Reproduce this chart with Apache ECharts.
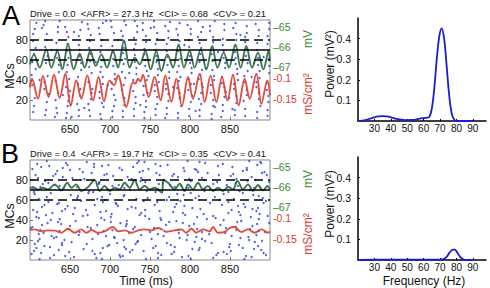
<!DOCTYPE html>
<html><head><meta charset="utf-8">
<script src="https://cdn.jsdelivr.net/npm/echarts@6/dist/echarts.min.js"></script>
<style>html,body{margin:0;padding:0;background:#fff}#c{width:490px;height:288px}</style>
</head><body><div id="c"></div>
<script>
// ---------- data ----------
const timeTicks = [650, 700, 750, 800, 850];
const mcTicks = [20, 40, 60, 80];
const mvTicks = [-65, -66, -67];
const gTicks = [-0.1, -0.15];
const freqTicks = [30, 40, 50, 60, 70, 80, 90];
const powerTicks = [0.1, 0.2, 0.3, 0.4];
const refLevels = [60, 70, 80];

const titleA = 'Drive = 0.0  <AFR> = 27.3 Hz  <CI> = 0.68  <CV> = 0.21';
const titleB = 'Drive = 0.4  <AFR> = 19.7 Hz  <CI> = 0.35  <CV> = 0.41';

// panel A voltage trace (ms, mV)
const vA_t = [600,605,612.1,620.4,626.7,634.2,640.4,647.5,654.6,662.1,668.3,675.4,682.1,689.2,696.3,703.75,710,717.5,724.6,730.8,737.1,744.2,750.8,757.9,764.2,771.7,778.75,785.8,792.5,799.6,805.8,813.3,820.4,827.9,834.2,842.1,848.75,856.7,863.3,870.4,877.5,885,891.7,898.3,900];
const vA_v = [-66.87,-66.37,-67.03,-66.12,-67.03,-66.2,-67.12,-65.83,-67.12,-66.33,-67.03,-66.2,-66.95,-66.37,-67.03,-66.2,-67.03,-65.67,-67.03,-66.53,-66.87,-66.2,-67.12,-66.2,-67.2,-66.37,-67.03,-65.87,-67.03,-66.2,-67.03,-66.12,-67.12,-65.95,-67.03,-66.28,-67.03,-65.87,-67.03,-65.95,-67.03,-66.28,-67.12,-66.2,-66.7];
// panel A conductance trace (ms, mS/cm2)
const gA_t = [600,602.5,610,616.25,623.3,630,637.1,644.2,650.8,657.9,664.2,671.7,678.75,685.8,692.5,699.6,705,710,720.4,728.75,731.7,735,738,741.25,748.3,755.8,763.3,769.2,776.7,782.9,790,797.5,803.75,812.1,818.3,825.8,832.9,840,846.7,853.75,860.8,868.3,874.6,882.9,889.2,896.7,900];
const gA_v = [-0.1215,-0.1017,-0.1493,-0.0953,-0.1453,-0.0922,-0.1477,-0.0898,-0.1667,-0.1056,-0.1493,-0.0937,-0.1533,-0.0976,-0.1556,-0.1056,-0.1175,-0.0937,-0.169,-0.1096,-0.1135,-0.1017,-0.108,-0.0922,-0.1453,-0.0976,-0.1533,-0.0937,-0.1572,-0.1017,-0.1667,-0.0976,-0.1493,-0.0898,-0.1572,-0.0937,-0.1572,-0.0976,-0.1533,-0.0922,-0.1652,-0.1017,-0.1493,-0.0898,-0.1612,-0.1056,-0.1414];
// panel B voltage trace
const vB_t = [600,603.75,610,616.25,622.5,630.8,639.2,646.7,651.7,657.9,664.2,672.5,680.8,687.1,693.3,699.6,705.8,712.1,718.3,724.6,730.8,737.1,743.3,749.6,755.8,762.1,765,767,772.5,780.8,787.1,793.3,797.5,803.75,810,816.25,822.5,828.75,835,841.25,847.5,853.75,859.2,866.25,872.5,878.75,885,891.25,896.7,900];
const vB_v = [-66.07,-66.0,-66.13,-66.04,-66.12,-65.87,-66.17,-65.79,-66.04,-65.87,-66.2,-66.0,-65.65,-66.2,-65.95,-66.2,-66.04,-66.12,-65.79,-66.04,-65.65,-66.12,-65.95,-66.12,-66.04,-66.2,-66.29,-65.65,-65.79,-66.12,-65.84,-66.2,-65.87,-66.12,-65.79,-66.12,-65.95,-66.2,-66.04,-66.2,-66.0,-66.12,-65.7,-66.12,-65.87,-66.2,-65.9,-66.17,-65.95,-66.12];
// panel B conductance trace (null = gap)
const gB_t = [600,605.8,614.2,622.5,630.8,639.2,647.5,655.8,664.2,670.4,676.7,685,693.3,703.75,710,718.3,726.7,735,743.3,751.7,760,766.25,767.5,769.2,780.8,789.2,795.4,801.7,807.9,816.25,824.6,828.75,835,843.3,849.6,855.8,864.2,872.5,880.8,889.2,897.5,900];
const gB_v = [-0.1294,-0.1271,-0.1318,-0.1294,-0.13,-0.135,-0.1255,-0.135,-0.1271,-0.135,-0.1287,-0.135,-0.1318,-0.1215,-0.1318,-0.1294,-0.135,-0.1294,-0.1271,-0.1294,-0.1238,-0.1287,null,-0.1334,-0.1294,-0.1271,-0.135,-0.1255,-0.135,-0.1271,-0.1318,-0.1215,-0.135,-0.1334,-0.1238,-0.1215,-0.1334,-0.1271,-0.135,-0.1271,-0.135,-0.1318];

// raster A spikes [ms, MC index]
const spikesA = [
[604,8],[606,22],[603,35],[607,51],[605,66],[604,79],[606,91],[602,45],[608,97],[605,14],[603,58],[607,72],[604,86],
[619,5],[621,18],[618,31],[622,44],[620,57],[619,73],[621,86],[617,95],[623,26],[620,10],[618,38],[622,64],[621,80],[619,99],
[633,12],[635,27],[632,39],[636,48],[634,62],[633,77],[635,88],[631,3],[637,99],[634,7],[632,20],[636,55],[633,70],[635,93],
[646,7],[648,19],[645,33],[649,41],[647,55],[646,69],[648,83],[644,93],[650,29],[647,14],[645,2],[649,24],[646,48],[648,62],[647,76],[646,88],
[661,4],[663,24],[660,36],[664,50],[662,64],[661,75],[663,90],[659,16],[665,98],[661,10],[663,31],[660,43],[664,57],[662,70],[661,84],
[674,10],[676,21],[673,38],[677,47],[675,59],[674,72],[676,85],[672,96],[678,31],[675,4],[673,16],[677,27],[674,53],[676,66],[675,79],[673,91],
[688,6],[690,17],[687,28],[691,43],[689,53],[688,68],[690,80],[686,92],[692,13],[689,1],[687,22],[691,36],[688,48],[690,60],[689,74],[687,86],[691,97],
[703,9],[705,25],[702,37],[706,46],[704,61],[703,74],[705,87],[701,99],[707,20],[703,3],[705,14],[702,31],[706,41],[704,54],[703,68],[705,80],[702,93],
[716,3],[718,15],[715,30],[719,42],[717,56],[716,67],[718,78],[714,89],[720,95],[717,35],[716,9],[718,22],[715,48],[719,61],[717,72],[716,84],[718,99],
[730,11],[732,23],[729,40],[733,52],[731,65],[730,82],[734,94],[730,4],[732,17],[729,29],[733,46],[731,58],[730,71],[732,76],[734,88],[731,99],
[743,8],[745,19],[742,34],[746,49],[744,60],[743,71],[745,84],[741,97],[747,27],[743,2],[745,13],[742,25],[746,40],[744,54],[743,66],[745,78],[741,90],
[757,5],[759,16],[756,29],[760,45],[758,58],[757,70],[759,81],[755,93],[761,38],[757,11],[759,23],[756,35],[760,51],[758,64],[757,76],[759,87],[755,99],
[771,12],[773,26],[770,36],[774,48],[772,63],[771,76],[773,89],[769,2],[775,98],[771,6],[773,19],[770,31],[774,42],[772,55],[771,69],[773,82],[769,94],
[785,7],[787,22],[784,32],[788,43],[786,54],[785,69],[787,79],[783,91],[789,14],[786,39],[785,2],[787,27],[784,48],[788,61],[786,74],[785,85],[787,97],
[799,4],[801,18],[798,30],[802,47],[800,57],[799,73],[801,86],[797,95],[803,24],[799,11],[801,36],[798,41],[802,52],[800,64],[799,80],[801,91],
[812,10],[814,27],[811,41],[815,50],[813,66],[812,77],[814,88],[810,99],[816,33],[812,4],[814,16],[811,21],[815,36],[813,45],[812,58],[814,72],[810,83],[816,93],
[827,6],[829,20],[826,35],[830,44],[828,59],[827,72],[829,83],[825,94],[831,13],[827,1],[829,14],[826,27],[830,40],[828,50],[827,66],[829,78],[825,89],[831,99],
[841,9],[843,23],[840,37],[844,52],[842,62],[841,75],[843,90],[839,3],[845,28],[841,15],[843,33],[840,43],[844,57],[842,69],[841,81],[843,96],
[856,5],[858,17],[855,31],[859,46],[857,56],[856,68],[858,80],[854,92],[860,40],[857,97],[856,10],[858,24],[855,36],[859,51],[857,62],[856,74],[858,86],
[869,11],[871,25],[868,38],[872,49],[870,64],[869,78],[871,87],[867,19],[869,4],[871,30],[868,44],[872,57],[870,71],[869,83],[871,94],
[884,8],[886,21],[883,33],[887,42],[885,55],[884,70],[886,84],[882,96],[888,14],[884,2],[886,27],[883,38],[887,49],[885,62],[884,77],[886,90],
[897,4],[898,18],[896,30],[899,47],[898,61],[897,76],[899,91],[897,10],[898,24],[896,37],[899,54],[898,68],[897,84],[899,97],
[612,40],[627,70],[641,25],[655,88],[668,12],[682,58],[697,35],[710,80],[724,47],[738,15],
[751,92],[765,60],[779,33],[793,75],[807,9],[820,52],[835,68],[849,22],[863,85],[877,43],
[892,63],[615,92],[652,3],[695,99],[748,44],[805,36],[853,11],[880,57]
];
// raster B spikes: [MC index, [ms...]]
const spikesB = [
[1,[612,745,868,690,801]],[2,[683,829,625,760]],[3,[655,790,713,877]],[4,[716,870,644,798]],[5,[630,712,833,895,764]],
[6,[602,777,681,846]],[7,[688,760,614,835,892]],[8,[649,842,725,780]],[9,[605,742,851,678]],[10,[728,889,636,811]],
[11,[667,803,880,720]],[12,[691,812,608,754,866]],[13,[625,718,781,849]],[14,[618,757,697,885]],[15,[699,776,861,640]],
[16,[671,850,732,606]],[17,[640,827,709,771]],[18,[734,881,652,806]],[19,[610,735,890,819]],[20,[643,796,717,874]],
[21,[678,752,815,612]],[22,[706,863,630,787]],[23,[633,705,873,808]],[24,[627,767,695,852]],[25,[661,797,739,883]],
[26,[685,824,611,760]],[27,[617,724,844,786]],[28,[750,894,662,815]],[29,[692,768,886,637]],[30,[613,786,703,858]],
[31,[648,809,729,875]],[32,[676,845,601,755]],[33,[603,731,857,672]],[34,[720,878,650,799]],[35,[684,770,838,615]],
[36,[639,805,721,884]],[37,[622,713,899,791]],[38,[701,859,635,774]],[39,[657,783,864,721]],[40,[626,764,693,842]],
[41,[637,749,821,886]],[42,[689,832,611,763]],[43,[608,701,876,809]],[44,[744,897,666,829]],[45,[672,794,620,737,863]],
[46,[654,817,702,887]],[47,[628,739,848,791]],[48,[609,779,688,861]],[49,[695,762,883,640]],[50,[670,852,604,744]],
[51,[644,813,722,878]],[52,[732,885,656,803]],[53,[615,727,869,781]],[54,[647,793,710,860]],[55,[681,756,840,618]],
[56,[708,867,634,783]],[57,[636,707,892,825]],[58,[623,759,691,848]],[59,[664,788,742,895]],[60,[694,837,612,771]],
[61,[611,733,855,684]],[62,[747,891,659,807]],[63,[690,774,831,621]],[64,[660,811,717,886]],[65,[651,718,879,792]],
[66,[606,784,700,842]],[67,[626,801,673,866]],[68,[679,848,605,757]],[69,[674,746,862,818]],[70,[725,875,638,792]],
[71,[604,697,825,760]],[72,[642,798,718,880]],[73,[659,781,887,613]],[74,[703,860,637,789]],[75,[631,711,846,775]],
[76,[616,761,686,829]],[77,[686,766,623,857]],[78,[687,834,744,899]],[79,[619,738,872,801]],[80,[740,882,664,818]],
[81,[668,799,858,727]],[82,[653,815,610,739]],[83,[641,722,785,877]],[84,[629,778,704,851]],[85,[607,693,836,896,762]],
[86,[696,854,632,780]],[87,[677,758,822,890]],[88,[737,893,666,810]],[89,[634,741,866,793]],[90,[650,808,715,871]],
[91,[662,806,603,748]],[92,[712,871,641,792]],[93,[614,729,853,680]],[94,[624,763,690,835]],[95,[698,772,884,647]],
[96,[680,841,609,757]],[97,[645,819,734,889]],[98,[743,888,671,812]],[99,[621,736,874,797]]
];

// power spectra (Hz, mV^2)
const fA = [20,22.5,25,27.5,30,32.5,35,37.5,40,42.5,45,47.5,50,52.5,55,57.5,60,62,63.5,65,66.5,68,69.5,71,72.5,74,75.5,77,78.5,80,85,90];
const pA = [0.0,0.002,0.006,0.012,0.018,0.022,0.024,0.022,0.018,0.012,0.008,0.005,0.004,0.005,0.007,0.011,0.014,0.016,0.02,0.06,0.16,0.3,0.41,0.45,0.4,0.27,0.13,0.04,0.008,0.001,0.0,0.0];
const fB = [20,30,40,50,60,70,72,74,76,78,79,80,82,84,86,90];
const pB = [0.001,0.002,0.002,0.002,0.002,0.002,0.004,0.015,0.038,0.05,0.05,0.042,0.018,0.003,0.0,0.0];

// ---------- build ----------
const zip = (t, v) => t.map((x, i) => [x, v[i]]);
const rasterB = [];
spikesB.forEach(([n, ts]) => ts.forEach(t => rasterB.push([t, n])));

const FONT = 'Liberation Sans, Arial, sans-serif';
const GREEN = '#3a8a2e', RED = '#d8382a', BLUE = '#2a3bd8';
const fmtMinus = v => String(v).replace('-', '\u2013');

function timeAxis(grid) {
  return { type: 'value', gridIndex: grid, min: 600, max: 900,
    axisLine: { show: false }, splitLine: { show: false },
    axisTick: { inside: true, length: 3, lineStyle: { color: '#777' }, customValues: timeTicks },
    axisLabel: { customValues: timeTicks, fontSize: 11, margin: 3, color: '#111', fontFamily: FONT } };
}
function mcAxis(grid) {
  return { type: 'value', gridIndex: grid, min: 0, max: 100,
    axisLine: { show: false }, splitLine: { show: false },
    axisTick: { inside: true, length: 3, lineStyle: { color: '#777' }, customValues: mcTicks },
    axisLabel: { customValues: mcTicks, fontSize: 11, margin: 2, color: '#111', fontFamily: FONT } };
}
function mvAxis(grid) {
  return { type: 'value', gridIndex: grid, position: 'right', min: -69.65, max: -64.65,
    axisLine: { show: false }, splitLine: { show: false }, axisTick: { show: false },
    axisLabel: { customValues: mvTicks, fontSize: 10.5, lineHeight: 9, margin: 3, color: GREEN, fontFamily: FONT, formatter: fmtMinus } };
}
function gAxis(grid) {
  return { type: 'value', gridIndex: grid, position: 'right', min: -0.2, max: 0.0381,
    axisLine: { show: false }, splitLine: { show: false }, axisTick: { show: false },
    axisLabel: { customValues: gTicks, fontSize: 10.5, lineHeight: 9, margin: 3, color: RED, fontFamily: FONT } };
}
function freqAxis(grid) {
  return { type: 'value', gridIndex: grid, min: 20, max: 98,
    axisLine: { lineStyle: { color: '#000', width: 1.5 } }, splitLine: { show: false },
    axisTick: { inside: true, length: 2, lineStyle: { color: '#000' }, customValues: freqTicks },
    axisLabel: { customValues: freqTicks, fontSize: 10, margin: 2, color: '#111', fontFamily: FONT } };
}
function powAxis(grid) {
  return { type: 'value', gridIndex: grid, min: 0, max: 0.5,
    axisLine: { lineStyle: { color: '#000', width: 1.5 } }, splitLine: { show: false },
    axisTick: { inside: true, length: 2, lineStyle: { color: '#000' }, customValues: powerTicks },
    axisLabel: { customValues: powerTicks, fontSize: 10.5, margin: 7, color: '#111', fontFamily: FONT } };
}

function refLines(xi, yi) {
  return { type: 'scatter', xAxisIndex: xi, yAxisIndex: yi, data: [], z: 6, silent: true,
    markLine: { silent: true, symbol: 'none', label: { show: false }, animation: false,
      data: refLevels.map(l => ({ yAxis: l, lineStyle: { color: '#000', width: 1.5, type: l === 70 ? 'solid' : [9, 5] } })) } };
}
function traceLine(xi, yi, data, color) {
  return { type: 'line', xAxisIndex: xi, yAxisIndex: yi, data, smooth: 0.35, showSymbol: false,
    connectNulls: false, lineStyle: { color, width: 1.9, opacity: 0.92 }, z: 4, silent: true, animation: false };
}
function dots(xi, yi, data) {
  return { type: 'scatter', xAxisIndex: xi, yAxisIndex: yi, data, symbolSize: 2.3, z: 2, silent: true,
    itemStyle: { color: BLUE, opacity: 0.8 }, animation: false };
}
function txt(x, y, text, size, fill, opts) {
  return Object.assign({ type: 'text', x, y, silent: true,
    style: { text, fontSize: size, fontFamily: FONT, fill, align: 'center', verticalAlign: 'middle',
      textAlign: 'center', textVerticalAlign: 'middle' } }, opts || {});
}

const option = {
  animation: false,
  backgroundColor: '#fff',
  grid: [
    { left: 30, top: 20, width: 240, height: 100, show: true, borderColor: '#888', borderWidth: 1 },
    { left: 30, top: 160, width: 240, height: 100, show: true, borderColor: '#888', borderWidth: 1 },
    { left: 358, top: 18, width: 128, height: 103 },
    { left: 358, top: 157, width: 128, height: 103 }
  ],
  xAxis: [timeAxis(0), timeAxis(1), freqAxis(2), freqAxis(3)],
  yAxis: [mcAxis(0), mvAxis(0), gAxis(0), mcAxis(1), mvAxis(1), gAxis(1), powAxis(2), powAxis(3)],
  series: [
    dots(0, 0, spikesA),
    traceLine(0, 1, zip(vA_t, vA_v), '#2d6a40'),
    traceLine(0, 2, zip(gA_t, gA_v), '#e0402f'),
    refLines(0, 0),
    dots(1, 3, rasterB),
    traceLine(1, 4, zip(vB_t, vB_v), '#2d6a40'),
    traceLine(1, 5, zip(gB_t, gB_v), '#e0402f'),
    refLines(1, 3),
    { type: 'line', xAxisIndex: 2, yAxisIndex: 6, data: zip(fA, pA), smooth: 0.4, showSymbol: false,
      lineStyle: { color: '#1c1cd0', width: 1.8 }, silent: true },
    { type: 'line', xAxisIndex: 3, yAxisIndex: 7, data: zip(fB, pB), smooth: 0.4, showSymbol: false,
      lineStyle: { color: '#1c1cd0', width: 1.8 }, silent: true }
  ],
  graphic: { elements: [
    txt(11, 16, 'A', 27, '#000'),
    txt(10, 154, 'B', 27, '#000'),
    txt(148, 13, titleA, 9.4, '#111'),
    txt(148, 153, titleB, 9.4, '#111'),
    txt(10, 76, 'MCs', 12.5, '#111', { rotation: Math.PI / 2 }),
    txt(10, 216, 'MCs', 12.5, '#111', { rotation: Math.PI / 2 }),
    txt(308, 39, 'mV', 12, GREEN, { rotation: Math.PI / 2 }),
    txt(308, 94, 'mS/cm\u00b2', 12, RED, { rotation: Math.PI / 2 }),
    txt(308, 179, 'mV', 12, GREEN, { rotation: Math.PI / 2 }),
    txt(308, 234, 'mS/cm\u00b2', 12, RED, { rotation: Math.PI / 2 }),
    txt(330, 64, 'Power (mV\u00b2)', 12, '#111', { rotation: Math.PI / 2 }),
    txt(330, 204, 'Power (mV\u00b2)', 12, '#111', { rotation: Math.PI / 2 }),
    txt(146, 281, 'Time (ms)', 12, '#111'),
    txt(424, 281, 'Frequency (Hz)', 12, '#111')
  ] }
};

const chart = echarts.init(document.getElementById('c'), null, { renderer: 'svg' });
chart.setOption(option);
</script>
</body></html>
